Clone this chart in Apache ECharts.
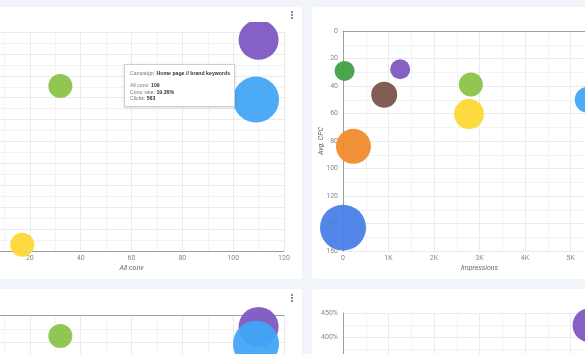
<!DOCTYPE html>
<html>
<head>
<meta charset="utf-8">
<script src="https://cdn.jsdelivr.net/npm/echarts@6/dist/echarts.min.js"></script>
<style>
  html, body { margin: 0; padding: 0; width: 585px; height: 354px; overflow: hidden; background: #f1f4f8; font-family: Roboto, Arial, sans-serif; }
  .card { position: absolute; background: #fff; border-radius: 3px; overflow: hidden; }
  .chart { position: absolute; left: 0; }
  .menu { position: absolute; width: 2px; }
  .menu i { display: block; width: 2px; height: 2px; border-radius: 1px; background: #666; margin-bottom: 1px; }
  .tip { font-size: 5.2px; line-height: 6.2px; color: #777; white-space: nowrap; }
  .tip b { color: #333; }
</style>
</head>
<body>
<div class="card" style="left:-60px;top:7px;width:362px;height:272px">
  <div class="chart" id="c1" style="top:15px;width:362px;height:257px"></div>
  <div class="menu" style="left:351px;top:4px"><i></i><i></i><i></i></div>
</div>
<div class="card" style="left:312px;top:7px;width:330px;height:272px">
  <div class="chart" id="c2" style="top:0;width:330px;height:272px"></div>
</div>
<div class="card" style="left:-60px;top:289px;width:362px;height:272px">
  <div class="chart" id="c3" style="top:0;width:362px;height:272px"></div>
  <div class="menu" style="left:351px;top:5px"><i></i><i></i><i></i></div>
</div>
<div class="card" style="left:312px;top:289px;width:330px;height:272px">
  <div class="chart" id="c4" style="top:0;width:330px;height:272px"></div>
</div>

<script>
// campaigns shown in the "All conv" charts (left column)
const convNames = ['Campaign A', 'Home page // brand keywords', 'Campaign C', 'Campaign D'];
const allConv = [110, 109, 32, 17];
const convRate = [27.0, 19.36, 21.1, 0.8];
const convClicks = [426, 563, 153, 153];
const costPerConv = [8.7, 21, 15.3, null];

// campaigns in the impressions / avg. CPC chart (right column)
const impNames = ['Campaign A', 'Home page // brand keywords', 'Campaign C', 'Campaign D',
  'Campaign E', 'Campaign F', 'Campaign G', 'Campaign H'];
const impressions = [1257, 5380, 2810, 2770, 35, 906, 230, 0];
const avgCpc = [27.8, 50, 38.9, 60.4, 29, 46.4, 83.9, 143];
const impCost = [1600, 2704, 2304, 3600, 1600, 2704, 4900, 8464];

// bottom right chart
const roasImpressions = [5420];
const roas = [425];
const roasCost = [4624];

const xConvTicks = { min: 0, max: 120, interval: 20 };
const xImpTicks = { min: 0, max: 6000, interval: 1000 };

const palette = ['#7e57c2', '#42a5f5', '#8bc34a', '#fdd835', '#43a047', '#795548', '#f08c2e', '#4a7fe8'];

const labelStyle = { color: '#888', fontSize: 7, fontFamily: 'Roboto, Arial, sans-serif' };
const nameStyle = { color: '#666', fontSize: 7, fontStyle: 'italic', fontFamily: 'Roboto, Arial, sans-serif' };
const gridLines = { show: true, lineStyle: { color: '#ebebeb', width: 1 } };
const minorLines = { show: true, lineStyle: { color: '#f3f3f3', width: 1 } };
const axisLine = { show: true, onZero: false, lineStyle: { color: '#9e9e9e', width: 1 } };

const valueAxis = (ticks, extra) => Object.assign({
  type: 'value',
  min: ticks.min,
  max: ticks.max,
  interval: ticks.interval,
  axisTick: { show: false },
  minorTick: { show: false, splitNumber: 2 },
  splitLine: gridLines,
  minorSplitLine: minorLines,
  axisLabel: Object.assign({ margin: 5 }, labelStyle),
  axisLine: { show: false },
  nameMoveOverlap: false,
}, extra);

// line only axis, used where the zero line sits on top of an inverted chart
const topLine = (ticks) => ({
  type: 'value', position: 'top', min: ticks.min, max: ticks.max,
  axisLine: axisLine, axisLabel: { show: false }, axisTick: { show: false },
  splitLine: { show: false },
});

const bubbles = (xs, ys, sizes, k, colors) => ({
  type: 'scatter',
  data: xs.map((x, i) => [x, ys[i], sizes[i]]),
  symbolSize: (v) => Math.sqrt(v[2]) * k,
  itemStyle: { color: (p) => colors[p.dataIndex], opacity: 0.95 },
  emphasis: { disabled: true },
});

const kFmt = (v) => (v === 0 ? '0' : v / 1000 + 'K');
const convColors = [palette[0], palette[1], palette[2], palette[3]];
const impColors = palette;
const fixedGrid = (g) => Object.assign({ containLabel: false, outerBoundsMode: 'none' }, g);

// top left: all conv vs conv. rate
const chart1 = echarts.init(document.getElementById('c1'));
chart1.setOption({
  animation: false,
  grid: fixedGrid({ left: 39, right: 18, top: 10, bottom: 28 }),
  tooltip: {
    trigger: 'item',
    triggerOn: 'none',
    alwaysShowContent: true,
    position: [184, 42],
    padding: [5, 4, 5, 5],
    backgroundColor: '#fff',
    borderColor: '#cfcfcf',
    borderWidth: 1,
    transitionDuration: 0,
    extraCssText: 'border-radius:0;box-shadow:0 1px 3px rgba(0,0,0,0.15);',
    formatter: (p) => {
      const i = p.dataIndex;
      return '<div class="tip">Campaign: <b>' + convNames[i] + '</b><br><br>' +
        'All conv: <b>' + allConv[i] + '</b><br>' +
        'Conv. rate: <b>' + convRate[i].toFixed(2) + '%</b><br>' +
        'Clicks: <b>' + convClicks[i] + '</b></div>';
    },
  },
  xAxis: valueAxis(xConvTicks, {
    axisLine: axisLine,
    axisLabel: Object.assign({ margin: 4 }, labelStyle),
    name: 'All conv', nameLocation: 'middle', nameGap: 14, nameTextStyle: nameStyle,
  }),
  yAxis: valueAxis({ min: 0, max: 28, interval: 2.8 }, { axisLine: axisLine }),
  series: [bubbles(allConv, convRate, convClicks, 1.94, convColors)],
});
chart1.dispatchAction({ type: 'showTip', seriesIndex: 0, dataIndex: 1 });

// top right: impressions vs avg. CPC (inverted)
const chart2 = echarts.init(document.getElementById('c2'));
chart2.setOption({
  animation: false,
  grid: fixedGrid({ left: 31, right: 26, top: 24, bottom: 28 }),
  xAxis: [
    valueAxis(xImpTicks, {
      axisLine: { show: false, onZero: false },
      axisLabel: Object.assign({ margin: 4, formatter: kFmt }, labelStyle),
      name: 'Impressions', nameLocation: 'middle', nameGap: 14, nameTextStyle: nameStyle,
    }),
    topLine(xImpTicks),
  ],
  yAxis: valueAxis({ min: 0, max: 160, interval: 20 }, {
    inverse: true, axisLine: axisLine,
    name: 'Avg. CPC', nameLocation: 'middle', nameGap: 18, nameTextStyle: nameStyle,
  }),
  series: [bubbles(impressions, avgCpc, impCost, 0.5, impColors)],
});

// bottom left: all conv vs cost / conv (inverted)
const chart3 = echarts.init(document.getElementById('c3'));
chart3.setOption({
  animation: false,
  grid: fixedGrid({ left: 39, width: 305, top: 26, height: 220 }),
  xAxis: [
    valueAxis(xConvTicks, { axisLine: { show: false, onZero: false } }),
    topLine(xConvTicks),
  ],
  yAxis: valueAxis({ min: 0, max: 160, interval: 20 }, { inverse: true, axisLine: axisLine }),
  series: [bubbles(allConv, costPerConv, convClicks, 1.94, convColors)],
});

// bottom right: impressions vs ROAS
const chart4 = echarts.init(document.getElementById('c4'));
chart4.setOption({
  animation: false,
  grid: fixedGrid({ left: 31, right: 26, top: 24, height: 220 }),
  xAxis: valueAxis(xImpTicks, { axisLine: axisLine, axisLabel: Object.assign({ formatter: kFmt }, labelStyle) }),
  yAxis: valueAxis({ min: 0, max: 450, interval: 50 }, {
    axisLine: axisLine,
    axisLabel: Object.assign({ margin: 5, formatter: '{value}%' }, labelStyle),
  }),
  series: [bubbles(roasImpressions, roas, roasCost, 0.5, [palette[0]])],
});
</script>
</body>
</html>
